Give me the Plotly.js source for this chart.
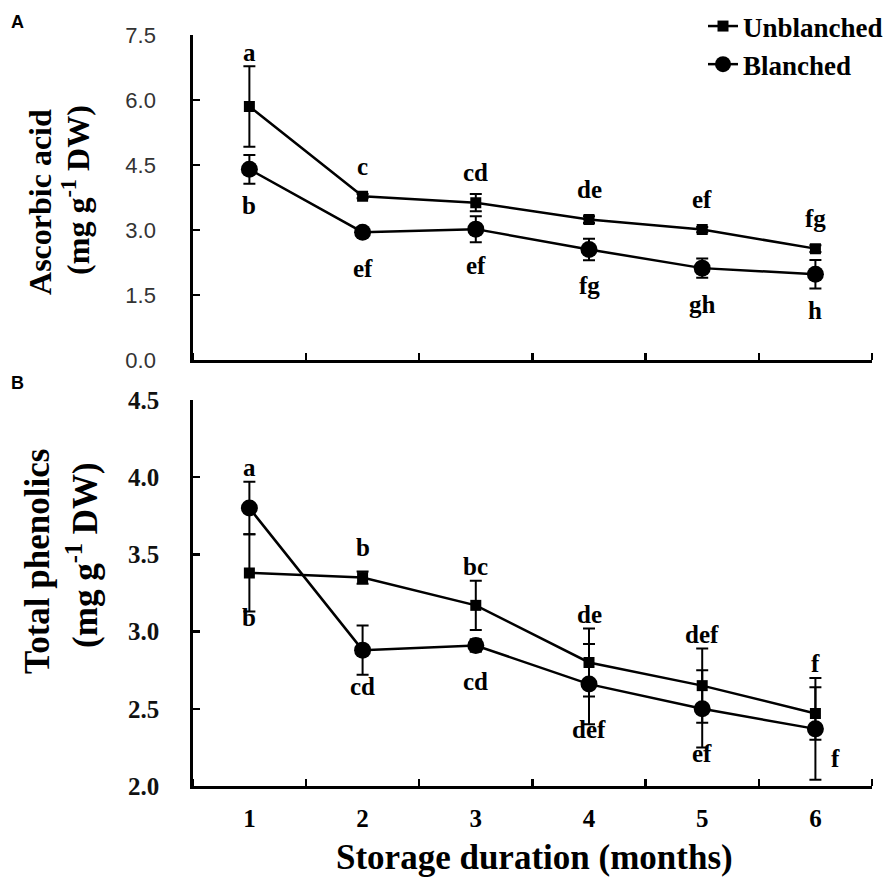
<!DOCTYPE html>
<html>
<head>
<meta charset="utf-8">
<script src="https://cdn.plot.ly/plotly-3.0.1.min.js"></script>
<style>html,body{margin:0;padding:0;background:#fff;}#chart{width:888px;height:878px;}</style>
</head>
<body>
<div id="chart"></div>
<script>
// ---------- DATA ----------
const months = [1, 2, 3, 4, 5, 6];
const xTickLabels = ['1', '2', '3', '4', '5', '6'];
const seriesNames = ['Unblanched', 'Blanched'];

// Panel A: Ascorbic acid (mg g-1 DW)
const ascorbicUnblanched = [5.85, 3.78, 3.63, 3.24, 3.01, 2.57];
const ascorbicUnblanchedErr = [0.93, 0.05, 0.20, 0.08, 0.06, 0.08];
const ascorbicBlanched = [4.40, 2.95, 3.02, 2.55, 2.12, 1.98];
const ascorbicBlanchedErr = [0.33, 0.05, 0.30, 0.25, 0.22, 0.33];
const ascorbicUnblanchedLetters = ['a', 'c', 'cd', 'de', 'ef', 'fg'];
const ascorbicBlanchedLetters = ['b', 'ef', 'ef', 'fg', 'gh', 'h'];

// Panel B: Total phenolics (mg g-1 DW)
const phenolicsUnblanched = [3.38, 3.35, 3.17, 2.80, 2.65, 2.47];
const phenolicsUnblanchedErr = [0.25, 0.04, 0.16, 0.22, 0.24, 0.17];
const phenolicsBlanched = [3.80, 2.88, 2.91, 2.66, 2.50, 2.37];
const phenolicsBlanchedErr = [0.17, 0.16, 0.04, 0.26, 0.25, 0.33];
const phenolicsUnblanchedLetters = ['b', 'b', 'bc', 'de', 'def', 'f'];
const phenolicsBlanchedLetters = ['a', 'cd', 'cd', 'def', 'ef', 'f'];

// Text
const yTitleA = ['Ascorbic acid', '(mg g<sup>-1</sup> DW)'];
const yTitleB = ['Total phenolics', '(mg g<sup>-1</sup> DW)'];
const xTitle = 'Storage duration (months)';

// ---------- LAYOUT HELPERS ----------
const W = 888, H = 878;
const SERIF = 'Liberation Serif, Times New Roman, serif';
const SANS = 'Liberation Sans, Arial, sans-serif';
const xDomain = [193 / W, 873 / W];
const yDomainA = [1 - 360 / H, 1 - 35 / H];
const yDomainB = [1 - 786 / H, 1 - 400 / H];
const yRangeA = [0, 7.5];
const yRangeB = [2, 4.5];
const halfTicks = [0.5, 1.5, 2.5, 3.5, 4.5, 5.5, 6.5];

function makeTraces(u, ue, b, be, xa, ya, showLegend) {
  return [
    {
      x: months, y: u, xaxis: xa, yaxis: ya, type: 'scatter', mode: 'lines+markers',
      name: seriesNames[0], showlegend: showLegend,
      line: {color: '#000', width: 2.5},
      marker: {symbol: 'square', size: 11, color: '#000'},
      error_y: {type: 'data', array: ue, visible: true, color: '#000', thickness: 2, width: 6}
    },
    {
      x: months, y: b, xaxis: xa, yaxis: ya, type: 'scatter', mode: 'lines+markers',
      name: seriesNames[1], showlegend: showLegend,
      line: {color: '#000', width: 2.5},
      marker: {symbol: 'circle', size: 17, color: '#000'},
      error_y: {type: 'data', array: be, visible: true, color: '#000', thickness: 2, width: 6}
    }
  ];
}

const letterFont = {family: SERIF, size: 25, color: '#000', weight: 'bold'};

function letterAnnotations(u, ue, ul, b, be, bl, xref, yref, domain, range) {
  const ppu = (domain[1] - domain[0]) * H / (range[1] - range[0]);
  const out = [];
  months.forEach((m, i) => {
    const uHigher = u[i] >= b[i];
    const hi = uHigher ? {v: u[i], e: ue[i], t: ul[i]} : {v: b[i], e: be[i], t: bl[i]};
    const lo = uHigher ? {v: b[i], e: be[i], t: bl[i]} : {v: u[i], e: ue[i], t: ul[i]};
    const topEnd = Math.max(u[i] + ue[i], b[i] + be[i]);
    const upShift = Math.max(30, (topEnd - hi.v) * ppu + 14);
    out.push({x: m, y: hi.v, xref: xref, yref: yref, text: hi.t, showarrow: false,
      yshift: upShift, font: letterFont});
    const errPx = lo.e * ppu;
    let dn, xs = 0;
    if (errPx > 45) { dn = 30; xs = 20; }
    else { dn = Math.min(Math.max(36, errPx + 12), 45); }
    out.push({x: m, y: lo.v, xref: xref, yref: yref, text: lo.t, showarrow: false,
      yshift: -dn, xshift: xs, font: letterFont});
  });
  return out;
}

const data = [
  ...makeTraces(ascorbicUnblanched, ascorbicUnblanchedErr, ascorbicBlanched, ascorbicBlanchedErr, 'x', 'y', true),
  ...makeTraces(phenolicsUnblanched, phenolicsUnblanchedErr, phenolicsBlanched, phenolicsBlanchedErr, 'x2', 'y2', false)
];

function xAxis(anchor, showLabels) {
  return {
    domain: xDomain, anchor: anchor, range: [0.5, 6.5],
    showline: true, linecolor: '#000', linewidth: 2.5,
    showgrid: false, zeroline: false,
    tickmode: 'array', tickvals: months, ticktext: xTickLabels,
    ticks: '', showticklabels: showLabels, ticklabelstandoff: 8,
    tickfont: {family: SERIF, size: 25, color: '#000', weight: 'bold'},
    minor: {tickmode: 'array', tickvals: halfTicks, ticks: 'inside', ticklen: 7, tickwidth: 2.5, tickcolor: '#000', showgrid: false},
    fixedrange: true
  };
}

function vText(x, y, text, size) {
  return {xref: 'paper', yref: 'paper', x: x / W, y: 1 - y / H, text: text,
    textangle: -90, showarrow: false, xanchor: 'center', yanchor: 'middle',
    font: {family: SERIF, size: size, color: '#000', weight: 'bold'}};
}

const layout = {
  width: W, height: H,
  margin: {l: 0, r: 0, t: 0, b: 0},
  paper_bgcolor: '#fff', plot_bgcolor: '#fff',
  showlegend: true,
  legend: {
    x: 704 / W, y: 1 - 2 / H, xanchor: 'left', yanchor: 'top',
    bgcolor: 'rgba(0,0,0,0)', borderwidth: 0, tracegroupgap: 0,
    font: {family: SERIF, size: 27, color: '#000', weight: 'bold'}
  },
  xaxis: xAxis('y', false),
  yaxis: {
    domain: yDomainA, anchor: 'x', range: yRangeA,
    tickmode: 'linear', tick0: 0, dtick: 1.5, tickformat: '.1f',
    ticks: 'inside', ticklen: 7, tickwidth: 2.5, tickcolor: '#000',
    showline: true, linecolor: '#000', linewidth: 2.5,
    showgrid: false, zeroline: false, ticklabelstandoff: 30,
    tickfont: {family: SANS, size: 22, color: '#333'}
  },
  xaxis2: xAxis('y2', true),
  yaxis2: {
    domain: yDomainB, anchor: 'x2', range: yRangeB,
    tickmode: 'linear', tick0: 2, dtick: 0.5, tickformat: '.1f',
    ticks: 'inside', ticklen: 7, tickwidth: 2.5, tickcolor: '#000',
    showline: true, linecolor: '#000', linewidth: 2.5,
    showgrid: false, zeroline: false, ticklabelstandoff: 26,
    tickfont: {family: SERIF, size: 25, color: '#111', weight: 'bold'}
  },
  annotations: [
    vText(40, 202, yTitleA[0], 32),
    vText(76, 190, yTitleA[1], 32),
    vText(37, 561, yTitleB[0], 35),
    vText(82, 555, yTitleB[1], 35),
    {xref: 'paper', yref: 'paper', x: 535 / W, y: 1 - 857 / H, text: xTitle,
      showarrow: false, xanchor: 'center', yanchor: 'middle',
      font: {family: SERIF, size: 35, color: '#000', weight: 'bold'}},
    {xref: 'paper', yref: 'paper', x: 18 / W, y: 1 - 22 / H, text: 'A', showarrow: false,
      xanchor: 'center', yanchor: 'middle', font: {family: SANS, size: 18, color: '#000', weight: 'bold'}},
    {xref: 'paper', yref: 'paper', x: 18 / W, y: 1 - 383 / H, text: 'B', showarrow: false,
      xanchor: 'center', yanchor: 'middle', font: {family: SANS, size: 18, color: '#000', weight: 'bold'}},
    ...letterAnnotations(ascorbicUnblanched, ascorbicUnblanchedErr, ascorbicUnblanchedLetters,
      ascorbicBlanched, ascorbicBlanchedErr, ascorbicBlanchedLetters, 'x', 'y', yDomainA, yRangeA),
    ...letterAnnotations(phenolicsUnblanched, phenolicsUnblanchedErr, phenolicsUnblanchedLetters,
      phenolicsBlanched, phenolicsBlanchedErr, phenolicsBlanchedLetters, 'x2', 'y2', yDomainB, yRangeB)
  ]
};

Plotly.newPlot('chart', data, layout, {staticPlot: true, displayModeBar: false});
</script>
</body>
</html>
